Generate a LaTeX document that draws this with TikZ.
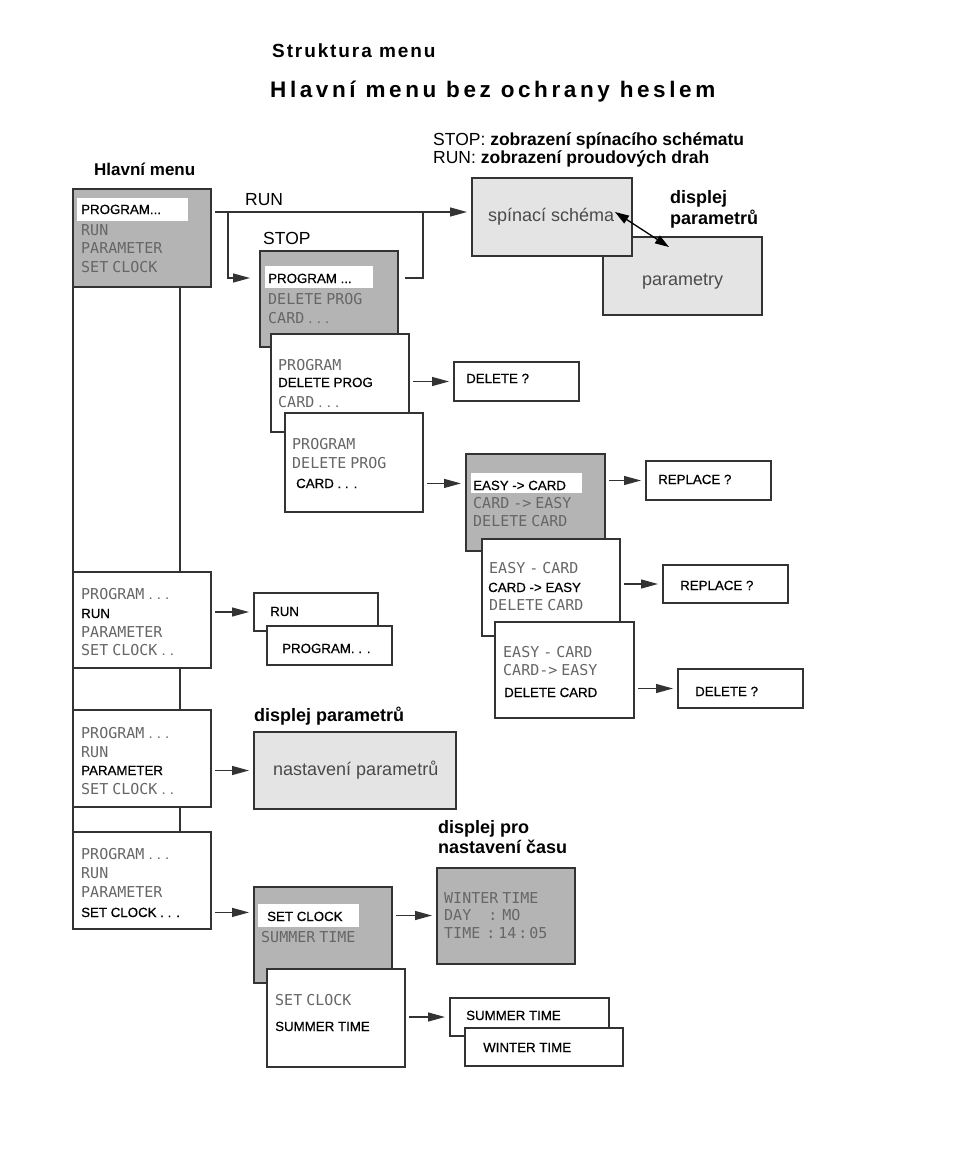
\documentclass[tikz,border=0pt]{standalone}
\usepackage{fontspec}
\setmainfont{Liberation Sans}
\newfontfamily\lcdf{DejaVu Sans Mono}
\newfontfamily\blkf[FakeBold=0.6]{Liberation Sans}
\newfontfamily\dotf{Liberation Sans}
\usetikzlibrary{arrows.meta,calc}
\definecolor{dk}{HTML}{B4B4B4}
\definecolor{lt}{HTML}{E4E4E4}
\definecolor{bd}{HTML}{333333}
\definecolor{lcdc}{HTML}{666666}
\definecolor{gtx}{HTML}{4A4A4A}
\newcommand\mybx[6]{\pgfmathsetmacro\mybw{#4-#2}\pgfmathsetmacro\mybh{#5-#3}%
  \node[box,fill=#6,minimum width=\mybw pt,minimum height=\mybh pt] (#1) at (#2,#3) {};}
\newcommand\myhl[5]{\pgfmathsetmacro\mybw{#4-#2}\pgfmathsetmacro\mybh{#5-#3}%
  \node[hl,minimum width=\mybw pt,minimum height=\mybh pt] (#1) at (#2,#3) {};}
\newcommand\lsp{\hspace{4pt}}
\newcommand\lcddots{{\dotf\ .\ .\ .}}
\newcommand\lcdtwo{{\dotf\ .\ .}}
\begin{document}
\begin{tikzpicture}[x=1pt,y=-1pt,
 box/.style={draw=bd,line width=1.3pt,anchor=north west,inner sep=0pt,outer sep=0pt},
 hl/.style={fill=white,anchor=north west,inner sep=0pt,outer sep=0pt},
 lcd/.style={font=\lcdf\fontsize{15}{16}\selectfont,text=lcdc,anchor=base west,inner sep=0pt},
 blk/.style={font=\blkf\fontsize{13.3}{14}\selectfont,anchor=base west,inner sep=0pt},
 lab/.style={font=\bfseries\fontsize{18}{20}\selectfont,anchor=base west,inner sep=0pt},
 reg/.style={font=\fontsize{17.5}{20}\selectfont,anchor=base west,inner sep=0pt},
 gt/.style={font=\fontsize{18}{20}\selectfont,text=gtx,anchor=base west,inner sep=0pt},
 arr/.style={line width=1.3pt,draw=bd,-{Triangle[length=17pt,width=9pt]},shorten <=4pt,shorten >=5pt},
 con/.style={line width=1.3pt,draw=bd}]
\useasboundingbox (0,0) rectangle (960,1152);

% titles
\node[anchor=base west,inner sep=0pt,font=\bfseries\fontsize{19}{22}\selectfont\addfontfeature{LetterSpace=10}] (t1) at (272,57) {Struktura menu};
\node[anchor=base west,inner sep=0pt,font=\bfseries\fontsize{22.5}{25}\selectfont\addfontfeature{LetterSpace=16}] (t2) at (270,97) {Hlavní menu bez ochrany heslem};
\node[anchor=base west,inner sep=0pt,font=\bfseries\fontsize{17}{20}\selectfont] (t3) at (94,175) {Hlavní menu};
\node[reg] (hd1) at (433,145) {STOP: \textbf{zobrazení spínacího schématu}};
\node[reg] (hd2) at (433,163) {RUN: \textbf{zobrazení proudových drah}};
\node[lab] (dp1) at (670,203) {displej};
\node[lab] (dp2) at (670,224) {parametrů};
\node[reg] (lrun) at (245,205) {RUN};
\node[reg] (lstop) at (263,244) {STOP};

% top right displays
\mybx{parm}{603}{237}{762}{315}{lt}
\mybx{spin}{472}{178}{632}{256}{lt}
\node[gt] (spint) at (488,221) {spínací schéma};
\node[gt] (parmt) at (642,285) {parametry};
\coordinate (da1) at (615,212);
\coordinate (da2) at (669,247);
\draw[line width=1.3pt,{Triangle[length=14pt,width=9pt]}-{Triangle[length=14pt,width=9pt]}] (da1) -- (da2);

% main menu 1
\mybx{m1}{73}{189}{211}{287}{dk}
\myhl{m1hl}{77}{198}{188}{221}
\node[blk] (m1a) at (81,214) {PROGRAM...};
\node[lcd] (m1b) at (81,235) {RUN};
\node[lcd] (m1c) at (81,253) {PARAMETER};
\node[lcd] (m1d) at (81,272) {SET\lsp CLOCK};

% STOP stack
\mybx{s1}{260}{251}{398}{347}{dk}
\myhl{s1hl}{265}{266}{373}{288}
\node[blk] (s1a) at (268,283) {PROGRAM ...};
\node[lcd] (s1b) at (268,304) {DELETE\lsp PROG};
\node[lcd] (s1c) at (268,323) {CARD\lcddots};

\mybx{s2}{271}{334}{409}{432}{white}
\node[lcd] (s2a) at (278,370) {PROGRAM};
\node[blk] (s2b) at (278,387) {DELETE PROG};
\node[lcd] (s2c) at (278,407) {CARD\lcddots};

\mybx{s3}{285}{413}{423}{512}{white}
\node[lcd] (s3a) at (292,449) {PROGRAM};
\node[lcd] (s3b) at (292,468) {DELETE\lsp PROG};
\node[blk] (s3c) at (296,488) {CARD . . .};

\mybx{d1}{454}{362}{579}{401}{white}
\node[blk] (d1t) at (466,383) {DELETE ?};

% card stack
\mybx{e1}{466}{454}{605}{551}{dk}
\myhl{e1hl}{471}{473}{582}{493}
\node[blk] (e1a) at (473,490) {EASY -> CARD};
\node[lcd] (e1b) at (473,508) {CARD\lsp->\lsp EASY};
\node[lcd] (e1c) at (473,526) {DELETE\lsp CARD};

\mybx{e2}{482}{539}{620}{636}{white}
\node[lcd] (e2a) at (489,573) {EASY\lsp-\lsp CARD};
\node[blk] (e2b) at (488,592) {CARD -> EASY};
\node[lcd] (e2c) at (489,610) {DELETE\lsp CARD};

\mybx{e3}{495}{622}{634}{718}{white}
\node[lcd] (e3a) at (503,657) {EASY\lsp-\lsp CARD};
\node[lcd] (e3b) at (503,675) {CARD->\lsp EASY};
\node[blk] (e3c) at (504,697) {DELETE CARD};

\mybx{r1}{646}{461}{771}{500}{white}
\node[blk] (r1t) at (658,484) {REPLACE ?};
\mybx{r2}{663}{565}{788}{603}{white}
\node[blk] (r2t) at (680,590) {REPLACE ?};
\mybx{d2}{678}{669}{803}{708}{white}
\node[blk] (d2t) at (695,696) {DELETE ?};

% main menu 2
\mybx{m2}{73}{572}{211}{668}{white}
\node[lcd] (m2a) at (81,599) {PROGRAM\lcddots};
\node[blk] (m2b) at (81,618) {RUN};
\node[lcd] (m2c) at (81,637) {PARAMETER};
\node[lcd] (m2d) at (81,655) {SET\lsp CLOCK\lcdtwo};

\mybx{runb}{254}{593}{378}{631}{white}
\node[blk] (runt) at (270,616) {RUN};
\mybx{progb}{267}{626}{392}{665}{white}
\node[blk] (progt) at (282,653) {PROGRAM. . .};

% main menu 3
\mybx{m3}{73}{710}{211}{807}{white}
\node[lcd] (m3a) at (81,738) {PROGRAM\lcddots};
\node[lcd] (m3b) at (81,757) {RUN};
\node[blk] (m3c) at (81,775) {PARAMETER};
\node[lcd] (m3d) at (81,794) {SET\lsp CLOCK\lcdtwo};

\node[lab] (dp3) at (254,721) {displej parametrů};
\mybx{parb}{254}{732}{456}{809}{lt}
\node[gt] (parbt) at (273,775) {nastavení parametrů};

% main menu 4
\mybx{m4}{73}{832}{211}{929}{white}
\node[lcd] (m4a) at (81,859) {PROGRAM\lcddots};
\node[lcd] (m4b) at (81,878) {RUN};
\node[lcd] (m4c) at (81,897) {PARAMETER};
\node[blk] (m4d) at (81,917) {SET CLOCK . . .};

\mybx{sc1}{254}{887}{392}{983}{dk}
\myhl{sc1hl}{258}{904}{359}{927}
\node[blk] (sc1a) at (267,921) {SET CLOCK};
\node[lcd] (sc1b) at (261,942) {SUMMER\lsp TIME};

\node[lab] (dp4) at (438,833) {displej pro};
\node[lab] (dp5) at (438,853) {nastavení času};
\mybx{timeb}{437}{868}{575}{964}{dk}
\node[lcd] (tma) at (444,903) {WINTER\lsp TIME};
\node[lcd] (tmb) at (444,920) {DAY\hspace{17pt}:\hspace{5pt}MO};
\node[lcd] (tmc) at (444,938) {TIME\hspace{6pt}:\hspace{3pt}14\hspace{2pt}:\hspace{2pt}05};

\mybx{sc2}{267}{969}{405}{1067}{white}
\node[lcd] (sc2a) at (275,1005) {SET\lsp CLOCK};
\node[blk] (sc2b) at (275,1031) {SUMMER TIME};

\mybx{sumb}{450}{998}{609}{1036}{white}
\node[blk] (sumt) at (466,1020) {SUMMER TIME};
\mybx{winb}{465}{1028}{623}{1066}{white}
\node[blk] (wint) at (483,1052) {WINTER TIME};

% connectors
\coordinate (vx) at (180,0);
\draw[con] (m1.south west) -- (m2.north west) (m2.south west) -- (m3.north west) (m3.south west) -- (m4.north west);
\draw[con] (m1.south -| vx) -- (m2.north -| vx) (m2.south -| vx) -- (m3.north -| vx) (m3.south -| vx) -- (m4.north -| vx);

\coordinate (runy) at (0,212);
\coordinate (stopy) at (0,278);
\coordinate (jn) at (228,212);
\coordinate (jn2) at (423,212);
\draw[arr] (m1.east |- runy) -- (spin.west |- runy);
\draw[arr,shorten <=0pt,shorten >=10pt] (jn) |- (s1.west |- stopy);
\draw[con] ($(s1.east |- stopy)+(7,0)$) -| (jn2);

\draw[arr] (s2.east |- d1.west) -- (d1.west);
\draw[arr] (s3.east |- s3c) -- (e1.west |- s3c);
\draw[arr] (e1.east |- r1.west) -- (r1.west);
\draw[arr] (e2.east |- r2.west) -- (r2.west);
\draw[arr] (e3.east |- d2.west) -- (d2.west);
\draw[arr] (m2.east |- runb.west) -- (runb.west);
\draw[arr] (m3.east |- parb.west) -- (parb.west);
\draw[arr] (m4.east |- m4d) -- (sc1.west |- m4d);
\draw[arr] (sc1.east |- sc1hl) -- (timeb.west |- sc1hl);
\draw[arr] (sc2.east |- sumb.west) -- (sumb.west);
\end{tikzpicture}
\end{document}
